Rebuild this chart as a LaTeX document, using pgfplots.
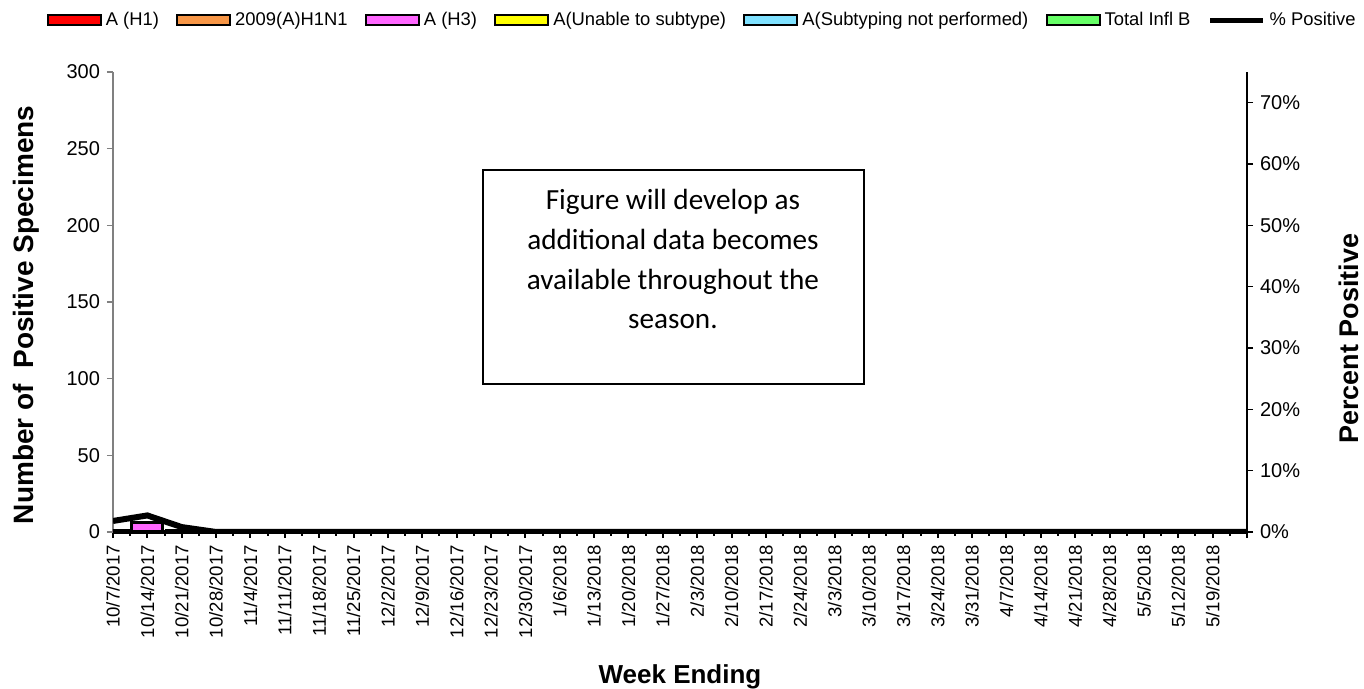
\documentclass[border=0pt]{standalone}
\usepackage{fontspec}
\setmainfont{Liberation Sans}
\newfontfamily\calibri{Carlito}
\usepackage{pgfplots}
\usepackage{pgfplotstable}
\pgfplotsset{compat=1.18}

\definecolor{cHone}{HTML}{FF0000}
\definecolor{cPdm}{HTML}{F79646}
\definecolor{cHthree}{HTML}{FF66FF}
\definecolor{cUnab}{HTML}{FFFF00}
\definecolor{cNosub}{HTML}{7FE1FF}
\definecolor{cB}{HTML}{66FF66}

\pgfplotsset{
  barlegend/.style={legend image code/.code={\draw[##1, line width=1pt] (0pt,-2.5pt) rectangle (26.5pt,2.5pt);}},
  linelegend/.style={legend image code/.code={\draw[##1] (0pt,0pt) -- (26.5pt,0pt);}},
}

% week index, counts by type, percent positive
\pgfplotstableread{
x  h1 pdm h3 unab nosub b pos
0  0  0   1  0    0     0 1.8
1  0  0   6  0    0     0 2.7
2  0  0   1  0    0     0 0.8
3  0  0   0  0    0     0 0
4  0  0   0  0    0     0 0
5  0  0   0  0    0     0 0
6  0  0   0  0    0     0 0
7  0  0   0  0    0     0 0
8  0  0   0  0    0     0 0
9  0  0   0  0    0     0 0
10 0  0   0  0    0     0 0
11 0  0   0  0    0     0 0
12 0  0   0  0    0     0 0
13 0  0   0  0    0     0 0
14 0  0   0  0    0     0 0
15 0  0   0  0    0     0 0
16 0  0   0  0    0     0 0
17 0  0   0  0    0     0 0
18 0  0   0  0    0     0 0
19 0  0   0  0    0     0 0
20 0  0   0  0    0     0 0
21 0  0   0  0    0     0 0
22 0  0   0  0    0     0 0
23 0  0   0  0    0     0 0
24 0  0   0  0    0     0 0
25 0  0   0  0    0     0 0
26 0  0   0  0    0     0 0
27 0  0   0  0    0     0 0
28 0  0   0  0    0     0 0
29 0  0   0  0    0     0 0
30 0  0   0  0    0     0 0
31 0  0   0  0    0     0 0
32 0  0   0  0    0     0 0
33 0  0   0  0    0     0 0
}\fludata

\begin{document}
\begin{tikzpicture}
\begin{axis}[
    at={(0pt,0pt)}, anchor=south west,
    scale only axis, width=567pt, height=230pt,
    xmin=0, xmax=33, ymin=0, ymax=300,
    ybar stacked, bar width=15.5pt,
    axis x line*=bottom, axis y line*=left,
    x axis line style={black, line width=2pt, -},
    y axis line style={gray, line width=0.75pt, -},
    xtick={0,...,33},
    xticklabels={10/7/2017,10/14/2017,10/21/2017,10/28/2017,11/4/2017,11/11/2017,11/18/2017,11/25/2017,12/2/2017,12/9/2017,12/16/2017,12/23/2017,12/30/2017,1/6/2018,1/13/2018,1/20/2018,1/27/2018,2/3/2018,2/10/2018,2/17/2018,2/24/2018,3/3/2018,3/10/2018,3/17/2018,3/24/2018,3/31/2018,4/7/2018,4/14/2018,4/21/2018,4/28/2018,5/5/2018,5/12/2018,5/19/2018,{}},
    minor xtick={0.5,1.5,...,32.5},
    tick align=outside,
    x tick style={black, line width=1pt},
    minor x tick style={black, line width=1pt},
    major tick length=3pt, minor tick length=2pt,
    y tick style={gray, line width=0.75pt},
    x tick label style={rotate=90, anchor=east, font=\fontsize{9.3}{10}\selectfont},
    ytick={0,50,...,300},
    y tick label style={font=\fontsize{10}{12}\selectfont},
    /pgf/number format/assume math mode=true,
    xlabel={\bfseries Week Ending},
    xlabel style={at={(axis description cs:0.5,-0.315)}, anchor=center, font=\fontsize{13}{15}\selectfont},
    ylabel={\bfseries Number of\ \ Positive Specimens},
    ylabel style={at={(axis description cs:-0.0767,0.472)}, anchor=center, font=\fontsize{14}{16}\selectfont},
    legend columns=-1,
    legend style={at={(rel axis cs:0.5205,1.113)}, anchor=center, draw=none, fill=none,
        font=\fontsize{9.2}{11}\selectfont,
        /tikz/every even column/.append style={column sep=6.6pt}},
]
\addplot[fill=cHone, draw=black, line width=1.5pt, barlegend] table[x=x,y=h1]{\fludata};
\addlegendentry{A (H1)}
\addplot[fill=cPdm, draw=black, line width=1.5pt, barlegend] table[x=x,y=pdm]{\fludata};
\addlegendentry{2009(A)H1N1}
\addplot[fill=cHthree, draw=black, line width=1.5pt, barlegend] table[x=x,y=h3]{\fludata};
\addlegendentry{A (H3)}
\addplot[fill=cUnab, draw=black, line width=1.5pt, barlegend] table[x=x,y=unab]{\fludata};
\addlegendentry{A(Unable to subtype)}
\addplot[fill=cNosub, draw=black, line width=1.5pt, barlegend] table[x=x,y=nosub]{\fludata};
\addlegendentry{A(Subtyping not performed)}
\addplot[fill=cB, draw=black, line width=1.5pt, barlegend] table[x=x,y=b]{\fludata};
\addlegendentry{Total Infl B}
\addlegendimage{black, line width=2.5pt, linelegend}
\addlegendentry{\% Positive}
\end{axis}
\begin{axis}[
    at={(0pt,0pt)}, anchor=south west,
    scale only axis, width=567pt, height=230pt,
    xmin=0, xmax=33, ymin=0, ymax=75,
    axis x line=none, axis y line*=right,
    y axis line style={black, line width=1pt, -},
    tick align=outside, major tick length=3pt,
    y tick style={black, line width=0.75pt},
    ytick={0,10,...,70},
    yticklabels={0\%,10\%,20\%,30\%,40\%,50\%,60\%,70\%},
    y tick label style={font=\fontsize{10}{12}\selectfont},
    ylabel={\bfseries Percent Positive},
    ylabel style={at={(axis description cs:1.09,0.42)}, anchor=center, font=\fontsize{13.5}{15}\selectfont},
]
\addplot[black, line width=3pt] table[x=x,y=pos]{\fludata};
\draw[black, line width=0.75pt] (rel axis cs:0.3263,0.787) rectangle (rel axis cs:0.6623,0.3217);
\node[align=center, font=\calibri\fontsize{14.6}{19.8}\selectfont] at (rel axis cs:0.4938,0.593)
    {Figure will develop as\\additional data becomes\\available throughout the\\season.};
\end{axis}
\pgfresetboundingbox
\path[use as bounding box] (-56.5pt,-78.5pt) rectangle (625.5pt,266pt);
\end{tikzpicture}
\end{document}
